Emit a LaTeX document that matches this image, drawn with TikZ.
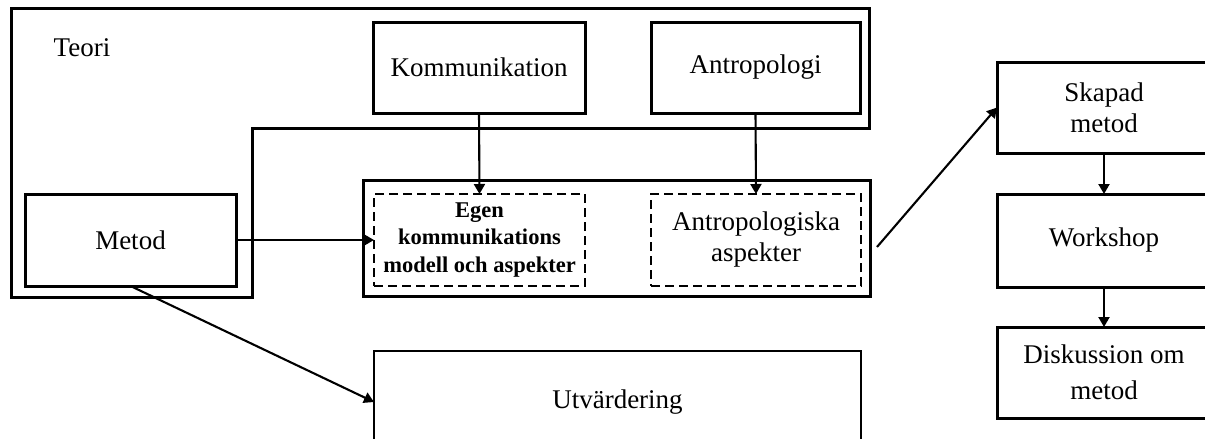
\documentclass[tikz,border=0pt]{standalone}
\usepackage{fontspec}
\setmainfont{Liberation Serif}
\usetikzlibrary{arrows.meta}

\begin{document}
\begin{tikzpicture}[x=1pt,y=-1pt,
  box/.style={draw, line width=3pt, inner sep=0pt, outer sep=0pt,
    font=\fontsize{27}{32}\selectfont, align=center},
  dbox/.style={box, line width=2.6pt, dash pattern=on 9pt off 5pt},
  conn/.style={line width=2.1pt, -{Triangle[length=10pt,width=11pt]}},
]
\useasboundingbox (0,0) rectangle (1205,439);
\clip (0,0) rectangle (1205,439);

% theory frame
\draw[line width=3pt] (11,8) -- (869,8) -- (869,128) -- (252,128)
  -- (252,297) -- (11,297) -- cycle;
\node[font=\fontsize{27}{32}\selectfont] (teori) at (82,48) {Teori};

% boxes inside the theory frame
\node[box, minimum width=212pt, minimum height=91pt] (komm) at (479,67.5) {Kommunikation};
\node[box, minimum width=209pt, minimum height=91pt] (antr) at (755.5,67.5) {Antropologi};
\node[box, minimum width=211pt, minimum height=92pt] (metod) at (130.5,240) {Metod};

% group of derived aspects
\node[box, minimum width=507pt, minimum height=116pt] (inner) at (616.5,238) {};
\node[dbox, minimum width=211pt, minimum height=92pt,
  font=\bfseries\fontsize{22.5}{27.5}\selectfont] (egen) at (479.5,240)
  {Egen\\kommunikations\\modell och aspekter};
\node[dbox, minimum width=210pt, minimum height=92pt,
  font=\fontsize{27}{31}\selectfont] (aasp) at (756,240)
  {Antropologiska\\aspekter};

% evaluation
\node[box, line width=2.7pt, minimum width=487pt, minimum height=102pt] (utv) at (617.5,402) {Utvärdering};

% right column
\node[box, minimum width=214pt, minimum height=91pt,
  font=\fontsize{27}{31}\selectfont] (skapad) at (1104,107.5) {Skapad\\metod};
\node[box, minimum width=214pt, minimum height=93pt] (work) at (1104,240.5) {Workshop};
\node[box, minimum width=214pt, minimum height=91pt,
  font=\fontsize{27}{36}\selectfont] (disk) at (1104,372.5) {Diskussion om\\metod};

% connectors
\draw[conn] (komm.south) -- (egen.north);
\draw[conn] (antr.south) -- (aasp.north);
\draw[conn] (metod.east) -- (egen.west);
\draw[conn] (metod.south) -- (utv.west);
\coordinate (ie) at ([shift={(7,9)}]inner.east);
\draw[conn] (ie) -- (skapad.west);
\draw[conn] (skapad.south) -- (work.north);
\draw[conn] (work.south) -- (disk.north);
\end{tikzpicture}
\end{document}
